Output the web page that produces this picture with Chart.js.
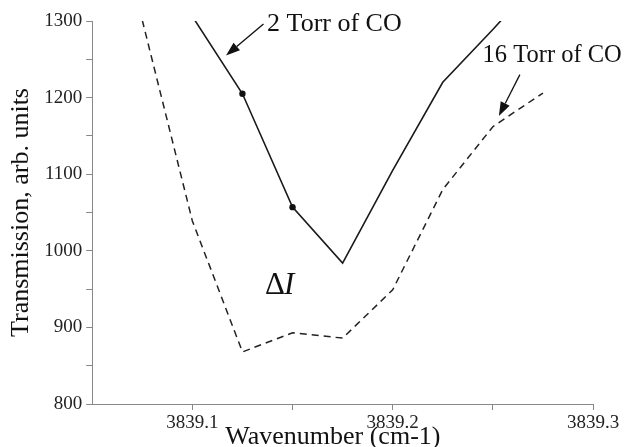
<!DOCTYPE html>
<html>
<head>
<meta charset="utf-8">
<script src="https://cdn.jsdelivr.net/npm/chart.js@4.4.1/dist/chart.umd.min.js"></script>
<style>
  html, body { margin: 0; padding: 0; background: #fff; }
  #wrap { width: 627px; height: 447px; }
</style>
</head>
<body>
<div id="wrap"><canvas id="grafico"></canvas></div>
<script>
// wavenumber grid (cm-1) and transmission
const wavenumbers = [3839.075, 3839.1, 3839.125, 3839.15, 3839.175, 3839.2, 3839.225, 3839.25, 3839.275];
const torr2  = [null, 1306, 1205, 1057, 984, 1105, 1220, 1289, 1360];
const torr16 = [1301, 1039, 868, 893, 886, 949, 1080, 1162, 1206];
const marked2 = [3839.125, 3839.15]; // points drawn with a dot on the 2 Torr curve

const yTicks = [800, 900, 1000, 1100, 1200, 1300];
const xTicks = ['3839.1', '3839.2', '3839.3'];

const serif = '"Liberation Serif", "Times New Roman", serif';

function pares(ys) {
    return wavenumbers.map((x, i) => ({ x: x, y: ys[i] })).filter(p => p.y !== null);
}

// labels and arrows drawn on top, placed in data units
const anotacoes = {
    id: 'anotacoes',
    afterDatasetsDraw(chart) {
        const ctx = chart.ctx, sx = chart.scales.x, sy = chart.scales.y;
        const px = v => sx.getPixelForValue(v), py = v => sy.getPixelForValue(v);
        ctx.save();
        ctx.fillStyle = '#111';
        ctx.textBaseline = 'alphabetic';
        ctx.textAlign = 'left';

        ctx.font = '26px ' + serif;
        ctx.fillText('2 Torr of CO', px(3839.1373), py(1287));
        ctx.font = '24.5px ' + serif;
        ctx.fillText('16 Torr of CO', px(3839.2449), py(1246));

        // ΔI
        ctx.font = '31px ' + serif;
        const x0 = px(3839.1363), y0 = py(944);
        ctx.fillText('Δ', x0, y0);
        const w = ctx.measureText('Δ').width;
        ctx.font = 'italic 31px ' + serif;
        ctx.fillText('I', x0 + w - 1, y0);

        seta(ctx, px(3839.1355), py(1296), px(3839.1168), py(1255));
        seta(ctx, px(3839.2635), py(1230), px(3839.2530), py(1176));
        ctx.restore();
    }
};

function seta(ctx, x1, y1, x2, y2) {
    const ang = Math.atan2(y2 - y1, x2 - x1), L = 14, H = 5;
    const bx = x2 - L * Math.cos(ang), by = y2 - L * Math.sin(ang);
    ctx.strokeStyle = '#111';
    ctx.lineWidth = 1.3;
    ctx.beginPath();
    ctx.moveTo(x1, y1);
    ctx.lineTo(bx, by);
    ctx.stroke();
    ctx.beginPath();
    ctx.moveTo(x2, y2);
    ctx.lineTo(bx + H * Math.sin(ang), by - H * Math.cos(ang));
    ctx.lineTo(bx - H * Math.sin(ang), by + H * Math.cos(ang));
    ctx.closePath();
    ctx.fill();
}

const canvasGrafico = document.getElementById('grafico').getContext('2d');

const grafico = new Chart(canvasGrafico, {
    type: 'line',
    data: {
        datasets: [
            {
                label: '2 Torr of CO',
                data: pares(torr2),
                borderColor: '#1a1a1a',
                borderWidth: 1.6,
                pointRadius: ctx => marked2.includes(ctx.raw && ctx.raw.x) ? 3.2 : 0,
                pointBackgroundColor: '#111',
                pointBorderWidth: 0,
                tension: 0
            },
            {
                label: '16 Torr of CO',
                data: pares(torr16),
                borderColor: '#222',
                borderWidth: 1.5,
                borderDash: [7, 5],
                pointRadius: 0,
                tension: 0
            }
        ]
    },
    options: {
        responsive: true,
        maintainAspectRatio: false,
        animation: false,
        events: [],
        layout: { padding: { left: 6, right: 34, top: 21, bottom: 0 } },
        plugins: {
            legend: { display: false },
            tooltip: { enabled: false }
        },
        scales: {
            x: {
                type: 'linear',
                min: 3839.05,
                max: 3839.3,
                ticks: {
                    stepSize: 0.05,
                    autoSkip: false,
                    maxRotation: 0,
                    padding: 2,
                    color: '#222',
                    font: { family: serif, size: 19 },
                    callback: v => {
                        const s = v.toFixed(1);
                        return (Math.abs(v - parseFloat(s)) < 1e-6 && xTicks.includes(s)) ? s : '';
                    }
                },
                grid: {
                    drawOnChartArea: false,
                    tickLength: 6,
                    tickColor: ctx => ctx.index === 0 ? 'rgba(0,0,0,0)' : '#888'
                },
                border: { color: '#888', width: 1 },
                title: {
                    display: true,
                    text: 'Wavenumber (cm-1)\u00a0\u00a0\u00a0',
                    color: '#111',
                    font: { family: serif, size: 26 },
                    padding: { top: -15, bottom: -6 }
                }
            },
            y: {
                min: 800,
                max: 1300,
                ticks: {
                    stepSize: 50,
                    autoSkip: false,
                    padding: 4,
                    color: '#222',
                    font: { family: serif, size: 19 },
                    callback: v => yTicks.includes(v) ? String(v) : ''
                },
                grid: {
                    drawOnChartArea: false,
                    tickLength: 6,
                    tickColor: '#888'
                },
                border: { color: '#888', width: 1 },
                title: {
                    display: true,
                    text: 'Transmission, arb. units',
                    color: '#111',
                    font: { family: serif, size: 26 },
                    padding: { top: 0, bottom: 3 }
                }
            }
        }
    },
    plugins: [anotacoes]
});
</script>
</body>
</html>
